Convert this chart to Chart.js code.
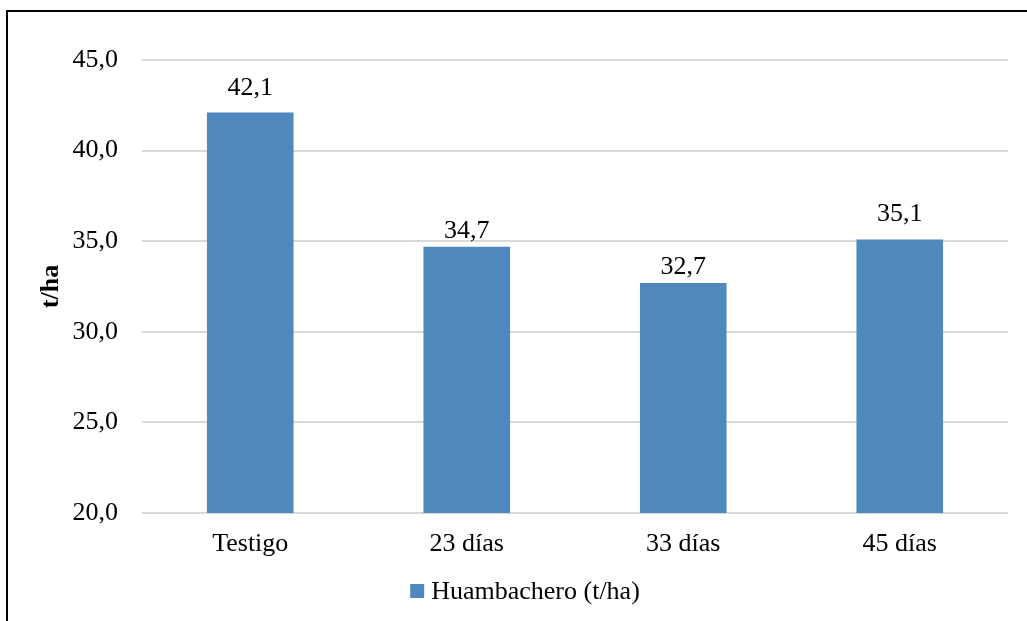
<!DOCTYPE html>
<html>
<head>
<meta charset="utf-8">
<script src="https://cdn.jsdelivr.net/npm/chart.js@4.4.1/dist/chart.umd.min.js"></script>
<style>
  html, body { margin: 0; padding: 0; background: #fff; }
  #wrap { width: 1027px; height: 621px; position: relative; }
</style>
</head>
<body>
<div id="wrap"><canvas id="c"></canvas></div>
<script>
// Rendimiento de huambachero por tratamiento
const categories = ['Testigo', '23 días', '33 días', '45 días'];
const rendimiento = [42.1, 34.7, 32.7, 35.1];
const seriesName = 'Huambachero (t/ha)';
const axisTitle = 't/ha';
const yMin = 20, yMax = 45, yStep = 5;

const FONT = '"Liberation Serif", "Times New Roman", serif';
const SIZE = 26;
const BAR_COLOR = '#4F88BC';
const fmt = v => v.toFixed(1).replace('.', ',');

// Value labels above each bar (gap in px between bar top and text baseline)
const valueLabels = {
  id: 'valueLabels',
  afterDatasetsDraw(chart, args, opts) {
    const ctx = chart.ctx;
    const meta = chart.getDatasetMeta(0);
    const gaps = opts.gaps || [];
    ctx.save();
    ctx.font = SIZE + 'px ' + FONT;
    ctx.fillStyle = '#000';
    ctx.textAlign = 'center';
    ctx.textBaseline = 'alphabetic';
    meta.data.forEach((bar, i) => {
      const gap = gaps[i] !== undefined ? gaps[i] : 18;
      ctx.fillText(fmt(chart.data.datasets[0].data[i]), bar.x, bar.y - gap);
    });
    ctx.restore();
  }
};

// Legend row under the category labels
const legendRow = {
  id: 'legendRow',
  afterDraw(chart) {
    const ctx = chart.ctx;
    const ds = chart.data.datasets[0];
    ctx.save();
    ctx.font = SIZE + 'px ' + FONT;
    const box = 14, gap = 7;
    const tw = ctx.measureText(ds.label).width;
    const total = box + gap + tw;
    const cx = 525, cy = 591;
    const x0 = cx - total / 2;
    ctx.fillStyle = ds.backgroundColor;
    ctx.fillRect(x0, cy - box / 2, box, box);
    ctx.fillStyle = '#000';
    ctx.textAlign = 'left';
    ctx.textBaseline = 'middle';
    ctx.fillText(ds.label, x0 + box + gap, cy + 1);
    ctx.restore();
  }
};

// Outer frame line
const frame = {
  id: 'frame',
  afterDraw(chart) {
    const ctx = chart.ctx;
    ctx.save();
    ctx.strokeStyle = '#000';
    ctx.lineWidth = 2;
    ctx.beginPath();
    ctx.moveTo(7, chart.height + 5);
    ctx.lineTo(7, 11);
    ctx.lineTo(chart.width + 5, 11);
    ctx.stroke();
    ctx.restore();
  }
};

new Chart(document.getElementById('c'), {
  type: 'bar',
  data: {
    labels: categories,
    datasets: [{
      label: seriesName,
      data: rendimiento,
      backgroundColor: BAR_COLOR,
      borderWidth: 0,
      barPercentage: 0.4,
      categoryPercentage: 1.0
    }]
  },
  options: {
    responsive: true,
    maintainAspectRatio: false,
    devicePixelRatio: 1,
    animation: false,
    layout: { padding: { left: 0, right: 19, top: 60, bottom: 50 } },
    plugins: {
      tooltip: { enabled: false },
      legend: { display: false },
      valueLabels: { gaps: [18, 9, 9, 18] }
    },
    scales: {
      x: {
        grid: { display: false },
        border: { display: false },
        ticks: { color: '#000', font: { family: FONT, size: SIZE }, padding: 8 },
        afterFit(scale) { scale.height = 58; }
      },
      y: {
        min: yMin,
        max: yMax,
        grid: { color: '#D9D9D9', lineWidth: 2, drawTicks: false },
        border: { display: false },
        ticks: {
          stepSize: yStep,
          color: '#000',
          padding: 24,
          font: { family: FONT, size: SIZE },
          callback: v => fmt(v)
        },
        title: {
          display: true,
          text: axisTitle,
          color: '#000',
          font: { family: FONT, size: SIZE, weight: 'bold' },
          padding: { top: 36, bottom: 0 }
        },
        afterFit(scale) { scale.width = 142; }
      }
    }
  },
  plugins: [valueLabels, legendRow, frame]
});
</script>
</body>
</html>
